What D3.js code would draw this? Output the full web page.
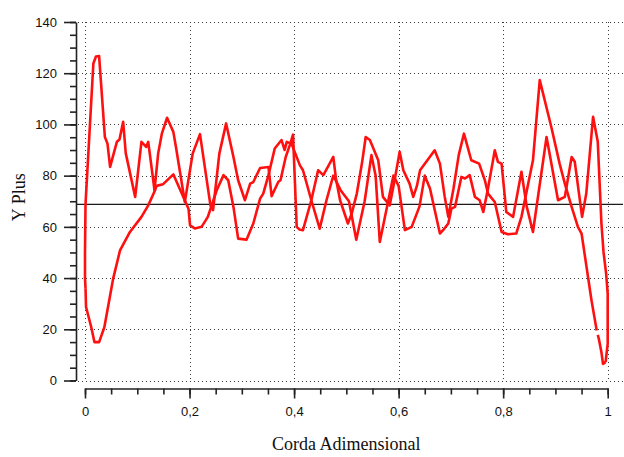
<!DOCTYPE html>
<html>
<head>
<meta charset="utf-8">
<script src="https://cdn.jsdelivr.net/npm/d3@7"></script>
<style>
    body { margin: 0; background: #fff; }
    #yplus-chart { width: 624px; height: 457px; }
</style>
</head>
<body>
<div id="yplus-chart"></div>
<script>
// values: [corda adimensional, y plus]
const upperSurface = [
    [0.001, 36], [0, 40], [0, 50], [0.001, 69], [0.016, 123.8], [0.021, 126.5], [0.027, 126.7],
    [0.038, 95.1], [0.043, 92.5], [0.048, 83.4], [0.061, 93.2], [0.066, 94.1], [0.073, 101],
    [0.078, 88.7], [0.096, 71.7], [0.108, 93.2], [0.117, 91.2], [0.121, 93.2], [0.133, 74.3],
    [0.140, 88.7], [0.147, 96.4], [0.157, 102.6], [0.169, 97.1], [0.174, 91.2], [0.191, 69.7],
    [0.206, 88.6], [0.220, 96.2], [0.240, 68.4], [0.245, 66.5], [0.257, 88.6], [0.270, 100.4],
    [0.284, 87.3], [0.293, 78.2], [0.306, 70.4], [0.316, 76.9], [0.322, 77.5], [0.335, 83],
    [0.351, 83.4], [0.357, 72], [0.370, 77.6], [0.374, 78.2], [0.384, 87.3], [0.392, 92],
    [0.398, 96], [0.405, 60], [0.410, 59], [0.417, 58.7], [0.433, 70.4], [0.446, 82.1],
    [0.456, 80.2], [0.475, 87.3], [0.480, 79], [0.488, 70.4], [0.503, 61.3], [0.510, 65],
    [0.520, 73], [0.530, 85], [0.537, 95.1], [0.545, 93.9], [0.561, 86], [0.570, 71.7],
    [0.583, 68.4], [0.593, 79], [0.602, 89.3], [0.609, 82.1], [0.621, 76.9], [0.628, 71.7],
    [0.635, 76], [0.641, 82.1], [0.655, 86], [0.669, 89.9], [0.679, 84.7], [0.688, 72],
    [0.695, 63.9], [0.705, 75], [0.715, 88], [0.725, 96.4], [0.739, 86], [0.754, 84.7],
    [0.765, 78.2], [0.771, 73], [0.784, 69.7], [0.797, 58], [0.809, 57.1], [0.825, 57.4],
    [0.835, 63.9], [0.857, 86], [0.870, 117.3], [0.892, 99.1], [0.908, 84.7], [0.918, 76.9],
    [0.931, 67.8], [0.943, 60], [0.950, 57.4], [0.969, 31.3], [0.979, 19.5], [0.9805, null],
    [0.981, 17.8], [0.983, 16.3], [0.988, 11], [0.991, 6.5], [0.996, 7.2]
];

const lowerSurface = [
    [0.001, 36], [0.002, 28.7], [0.012, 20.8], [0.018, 15], [0.027, 15], [0.037, 20.8],
    [0.054, 39.9], [0.067, 50.8], [0.086, 58], [0.108, 63.9], [0.121, 68.4], [0.134, 74.3],
    [0.137, 76], [0.149, 76.6], [0.169, 80.5], [0.174, 78.2], [0.198, 67.1], [0.201, 60.6],
    [0.210, 59.4], [0.223, 60], [0.235, 63.9], [0.252, 74.3], [0.265, 80.2], [0.274, 78.2],
    [0.284, 67.8], [0.293, 55.4], [0.309, 55], [0.322, 61.3], [0.335, 71], [0.341, 73],
    [0.351, 80.2], [0.363, 90.6], [0.376, 93.9], [0.382, 90], [0.386, 93.2], [0.395, 92.5],
    [0.411, 84.1], [0.417, 82.1], [0.433, 70.4], [0.449, 59.3], [0.462, 70.4], [0.475, 80],
    [0.490, 74], [0.505, 70], [0.519, 55], [0.535, 70], [0.548, 88], [0.556, 80], [0.564, 54.1],
    [0.575, 65], [0.590, 80], [0.600, 76], [0.612, 58.7], [0.625, 60], [0.640, 68], [0.650, 80],
    [0.660, 75], [0.679, 57.4], [0.685, 58.7], [0.695, 61.3], [0.701, 67.1], [0.708, 67.8],
    [0.720, 79.5], [0.727, 78.9], [0.736, 80.2], [0.746, 71.7], [0.755, 70.4], [0.762, 65.8],
    [0.771, 75], [0.784, 89.9], [0.790, 85.4], [0.797, 84.7], [0.806, 65.8], [0.819, 63.9],
    [0.835, 81.5], [0.845, 68], [0.857, 58], [0.883, 95.1], [0.905, 70.4], [0.918, 71.7],
    [0.931, 87.3], [0.937, 85.4], [0.951, 63.9], [0.959, 73], [0.972, 103], [0.981, 93.2],
    [0.988, 61.3], [0.992, 50.2], [0.997, 41.7], [1.000, 33.9], [1.000, 14.4], [0.996, 7.2]
];

const yPlusMean = 68.8;

const xTicks = [0, 0.2, 0.4, 0.6, 0.8, 1];
const xTickLabels = ['0', '0,2', '0,4', '0,6', '0,8', '1'];
const xMinorTicks = d3.range(0, 1.0001, 0.05);
const yTicks = [0, 20, 40, 60, 80, 100, 120, 140];
const yMinorTicks = d3.range(0, 141, 5);

render();

function render() {
    const divID = d3.select('#yplus-chart');
    line_chart(divID, {
        width: 624,
        height: 457,
        margin: { top: 22, bottom: 76.5, left: 85, right: 16.3 }
    });
}

function line_chart(selection, props) {
    const { width, height, margin } = props;

    const svg = selection.append('svg')
        .attr('width', width)
        .attr('height', height)
        .style('font-family', "'DejaVu Sans', Verdana, sans-serif");

    const x = d3.scaleLinear()
        .domain([0, 1])
        .range([margin.left, width - margin.right]);

    const y = d3.scaleLinear()
        .domain([0, 140])
        .range([height - margin.bottom, margin.top]);

    const yAxisX = margin.left - 9;      // y axis sits a little left of x = 0
    const xAxisY = y(0) + 8;            // x axis sits a little below y = 0
    const plotRight = width - 1;

    // dotted grid
    const grid = svg.append('g').attr('class', 'grid')
        .attr('stroke', '#3a3a3a')
        .attr('stroke-width', 1)
        .attr('stroke-dasharray', '1,3');

    grid.selectAll('.hgrid')
        .data(yTicks)
        .join('line')
        .attr('x1', yAxisX + 2)
        .attr('x2', plotRight)
        .attr('y1', d => Math.round(y(d)) + 0.5)
        .attr('y2', d => Math.round(y(d)) + 0.5);

    grid.selectAll('.vgrid')
        .data(xTicks)
        .join('line')
        .attr('x1', d => Math.round(x(d)) + 0.5)
        .attr('x2', d => Math.round(x(d)) + 0.5)
        .attr('y1', y(140))
        .attr('y2', y(0));

    // mean y plus line
    svg.append('line')
        .attr('x1', yAxisX)
        .attr('x2', plotRight)
        .attr('y1', y(yPlusMean))
        .attr('y2', y(yPlusMean))
        .attr('stroke', '#1a1a1a')
        .attr('stroke-width', 1.3);

    // the two surfaces
    const lineGen = d3.line()
        .defined(d => d[1] !== null)
        .x(d => x(d[0]))
        .y(d => y(d[1]));

    svg.selectAll('.surface')
        .data([upperSurface, lowerSurface])
        .join('path')
        .attr('class', 'surface')
        .attr('d', lineGen)
        .attr('fill', 'none')
        .attr('stroke', '#ff1010')
        .attr('stroke-width', 2.6)
        .attr('stroke-linejoin', 'round');

    // y axis: minor then major ticks
    svg.append('g')
        .attr('transform', `translate(${yAxisX},0)`)
        .call(d3.axisLeft(y).tickValues(yMinorTicks).tickSize(6).tickFormat(''))
        .call(g => g.select('.domain').remove());

    svg.append('g')
        .attr('transform', `translate(${yAxisX},0)`)
        .call(d3.axisLeft(y).tickValues(yTicks).tickSize(12).tickPadding(7).tickSizeOuter(0));

    // x axis
    svg.append('g')
        .attr('transform', `translate(0,${xAxisY})`)
        .call(d3.axisBottom(x).tickValues(xMinorTicks).tickSize(6).tickFormat(''))
        .call(g => g.select('.domain').remove());

    svg.append('g')
        .attr('transform', `translate(0,${xAxisY})`)
        .call(d3.axisBottom(x).tickValues(xTicks).tickSize(10).tickPadding(8).tickSizeOuter(0)
            .tickFormat((d, i) => xTickLabels[i]));

    svg.selectAll('.tick line, .domain')
        .attr('stroke', '#222')
        .attr('stroke-width', 1.6);

    svg.selectAll('.tick text')
        .style('font-size', '13px')
        .style('fill', '#111');

    // axis titles
    svg.append('text')
        .attr('x', (x(0) + x(1)) / 2)
        .attr('y', 450)
        .style('text-anchor', 'middle')
        .style('font-family', "'Liberation Serif', 'Times New Roman', serif")
        .style('font-size', '18px')
        .style('fill', '#111')
        .text('Corda Adimensional');

    svg.append('text')
        .attr('transform', `translate(25,${(y(0) + y(140)) / 2 - 4}) rotate(-90)`)
        .style('text-anchor', 'middle')
        .style('font-family', "'Liberation Serif', 'Times New Roman', serif")
        .style('font-size', '18px')
        .style('fill', '#111')
        .text('Y Plus');
}
</script>
</body>
</html>
